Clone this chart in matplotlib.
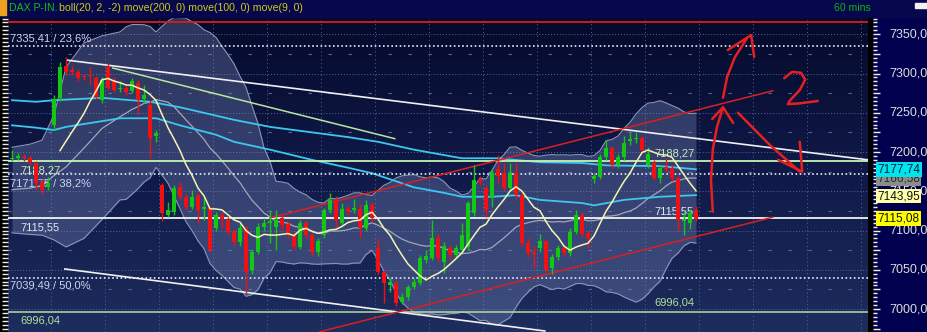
import numpy as np
import pandas as pd
import matplotlib
matplotlib.use("Agg")
import matplotlib.pyplot as plt
from matplotlib.patches import Rectangle
from matplotlib.colors import LinearSegmentedColormap
from matplotlib.ticker import MultipleLocator

plt.rcParams['font.family'] = ['Liberation Sans', 'DejaVu Sans']

# DAX hourly candles
opens = [7191, 7192, 7194, 7193, 7186, 7162, 7155, 7235, 7269, 7309, 7305, 7302, 7297, 7298, 7294, 7266, 7308, 7292, 7280, 7282,
         7278, 7288, 7268, 7260, 7220, 7158, 7120, 7124, 7155, 7143, 7130, 7145, 7128, 7129, 7103, 7120, 7113, 7098, 7085, 7104,
         7050, 7073, 7105, 7109, 7105, 7116, 7108, 7094, 7079, 7110, 7094, 7072, 7094, 7126, 7139, 7110, 7128, 7126, 7128, 7103,
         7132, 7078, 7047, 7030, 7033, 7009, 7015, 7028, 7033, 7062, 7065, 7090, 7060, 7078, 7069, 7075, 7079, 7122, 7166, 7154,
         7143, 7178, 7173, 7154, 7173, 7145, 7084, 7073, 7078, 7086, 7052, 7066, 7078, 7071, 7098, 7120, 7097, 7166, 7168, 7194,
         7205, 7183, 7194, 7214, 7216, 7218, 7183, 7186, 7167, 7181, 7180, 7167, 7112, 7110, 7126]
highs = [7203, 7199, 7198, 7196, 7188, 7165, 7168, 7272, 7315, 7321, 7310, 7306, 7300, 7308, 7297, 7295, 7313, 7296, 7290, 7285,
         7294, 7292, 7285, 7266, 7228, 7160, 7136, 7158, 7162, 7146, 7152, 7148, 7143, 7131, 7124, 7123, 7117, 7102, 7108, 7106,
         7076, 7110, 7116, 7126, 7126, 7120, 7112, 7098, 7114, 7113, 7097, 7090, 7129, 7148, 7144, 7135, 7131, 7140, 7134, 7139,
         7136, 7090, 7050, 7040, 7036, 7020, 7031, 7040, 7069, 7075, 7113, 7095, 7085, 7082, 7082, 7110, 7138, 7183, 7170, 7158,
         7178, 7196, 7186, 7186, 7186, 7148, 7090, 7080, 7095, 7088, 7070, 7082, 7081, 7103, 7126, 7124, 7100, 7173, 7197, 7215,
         7208, 7198, 7221, 7224, 7226, 7221, 7206, 7190, 7184, 7192, 7183, 7170, 7126, 7128, 7131]
lows = [7189, 7190, 7188, 7183, 7151, 7146, 7152, 7228, 7265, 7298, 7298, 7290, 7292, 7285, 7268, 7262, 7279, 7276, 7276, 7272,
        7275, 7248, 7262, 7193, 7213, 7112, 7117, 7120, 7140, 7126, 7127, 7110, 7113, 7072, 7100, 7103, 7094, 7080, 7080, 7020,
        7044, 7070, 7100, 7084, 7075, 7100, 7090, 7075, 7076, 7090, 7067, 7068, 7090, 7122, 7105, 7106, 7120, 7122, 7090, 7099,
        7111, 7044, 7008, 7022, 7004, 7006, 7012, 7025, 7030, 7058, 7062, 7060, 7046, 7062, 7065, 7072, 7075, 7118, 7158, 7117,
        7130, 7160, 7150, 7150, 7140, 7080, 7066, 7052, 7073, 7047, 7044, 7062, 7068, 7068, 7095, 7092, 7078, 7160, 7165, 7190,
        7180, 7180, 7190, 7209, 7212, 7199, 7180, 7164, 7160, 7175, 7163, 7100, 7094, 7102, 7112]
closes = [7193, 7195, 7192, 7187, 7160, 7152, 7161, 7268, 7308, 7302, 7302, 7294, 7296, 7297, 7270, 7292, 7282, 7279, 7282, 7277,
          7290, 7266, 7273, 7218, 7224, 7122, 7126, 7154, 7143, 7130, 7143, 7126, 7130, 7075, 7120, 7115, 7098, 7085, 7103, 7047,
          7073, 7105, 7110, 7112, 7114, 7107, 7094, 7079, 7110, 7094, 7072, 7086, 7126, 7139, 7113, 7128, 7124, 7129, 7103, 7132,
          7116, 7047, 7033, 7034, 7008, 7015, 7028, 7034, 7065, 7068, 7090, 7065, 7080, 7069, 7078, 7094, 7135, 7164, 7162, 7126,
          7173, 7170, 7154, 7173, 7145, 7084, 7071, 7070, 7086, 7050, 7066, 7078, 7071, 7098, 7120, 7095, 7090, 7169, 7194, 7205,
          7183, 7194, 7212, 7216, 7218, 7203, 7198, 7167, 7180, 7178, 7167, 7113, 7115, 7122, 7115.08]

# bollinger band before 20 bars are available
bb_head_idx = [0, 3, 5, 7, 9, 12, 15, 18]
bb_head_up = [7206, 7210, 7215, 7247, 7308, 7339, 7348, 7353]
bb_head_mid = [7152, 7154, 7157, 7170, 7181, 7205, 7230, 7245]
bb_head_lo = [7097, 7095, 7094, 7088, 7079, 7090, 7114, 7139]

# move(200) and move(100), sampled off the chart
ma_slow_idx = [0, 4, 7, 15, 23, 28, 37, 43, 56, 61, 67, 75, 81, 88, 95, 99, 108, 114]
ma_slow = [7266, 7264, 7266, 7269, 7264, 7257, 7241, 7232, 7219, 7213, 7203, 7192, 7192, 7187, 7186, 7183, 7182, 7178]
ma_mid_idx = [0, 4, 7, 9, 18, 20, 24, 28, 34, 37, 43, 50, 56, 60, 67, 72, 75, 80, 84, 88, 95, 97, 102, 108, 114]
ma_mid = [7234, 7231, 7228, 7232, 7243, 7243, 7243, 7234, 7222, 7213, 7203, 7190, 7180, 7173, 7155, 7148, 7143, 7143, 7145,
          7139, 7135, 7132, 7139, 7143, 7145]

# horizontal levels
red_top = 7366
fib_levels = [7335.41, 7171.75, 7039.49]
fib_text = ['7335,41 / 23,6%', '7171,75 / 38,2%', '7039,49 / 50,0%']
lvl_white = 7115.55
lvl_green = 7188.27
lvl_low = 6996.04

# drawn trendlines (bar index, price)
tl_white_top = ([9.2, 142.7], [7317, 7190])
tl_white_low = ([8.8, 88.8], [7051, 6972])
tl_green = ([16.8, 63.8], [7307, 7217])
tl_red_up = ([43, 126.8], [7116, 7278])
tl_red_low = ([51.3, 126.8], [6971, 7117])

# hand drawn marks
arrow_a = ([116.8, 116.5, 116.8, 117.5, 118.5], [7124, 7164, 7203, 7232, 7257])
arrow_a_head = ([116.7, 118.5, 120.2], [7242, 7257, 7237])
arrow_b = ([118.5, 119.2, 120.5, 122.5], [7269, 7296, 7321, 7345])
arrow_b_head = ([119.3, 123.2, 123.7], [7330, 7349, 7321])
arrow_c = ([121, 126.3, 131.3], [7250, 7209, 7175])
arrow_c_head = ([127.7, 131.7, 131.3], [7190, 7175, 7213])
two_x = [128.7, 130, 131.5, 132.2, 131.3, 129.7, 129.3, 131.3, 134.3]
two_y = [7294, 7302, 7301, 7292, 7279, 7266, 7261, 7262, 7265]

axis_prices = [7000, 7050, 7100, 7150, 7200, 7250, 7300, 7350]
tags = [('7166,58', 7166.58, '#8c8c8c', '#2a2a2a'), ('7177,74', 7177.74, '#00e4ee', '#002040'),
        ('7143,95', 7143.95, '#ffffa8', '#101010'), ('7115,08', 7115.08, '#ffff00', '#101010')]

W, H = 928, 332
fig = plt.figure(figsize=(W / 100, H / 100), dpi=100, facecolor='black')
ax = fig.add_axes([8 / W, 0, 860 / W, 315 / H])
ylo, yhi = 6970.7, 7372.0
xlo, xhi = -0.67, 142.67

grad = np.linspace(0, 1, 256).reshape(-1, 1)
cmap = LinearSegmentedColormap.from_list('bg', ['#1d2d5d', '#101a48', '#050a2c'])
ax.imshow(grad, aspect='auto', cmap=cmap, extent=[0, 1, 0, 1], transform=ax.transAxes, origin='lower', zorder=0)

# grid
for p in range(7000, 7375, 25):
    if p % 50 == 0:
        ax.axhline(p, color='#56659a', lw=0.7, ls=(0, (1, 2)), zorder=1)
    else:
        ax.axhline(p, color='#56659a', lw=0.8, ls=(0, (3, 15)), zorder=1)
for gx in np.arange(6.5, 143, 9):
    ax.axvline(gx, color='#56659a', lw=0.7, ls=(0, (1, 3)), zorder=1)

x = np.arange(len(closes))
cl = pd.Series(closes)
mid20 = cl.rolling(20).mean()
sd20 = cl.rolling(20).std(ddof=0)
ma9 = cl.rolling(9).mean()

bx = np.r_[bb_head_idx, x[19:]]
bup = np.r_[bb_head_up, (mid20 + 2 * sd20)[19:]]
blo = np.r_[bb_head_lo, (mid20 - 2 * sd20)[19:]]
bmid = np.r_[bb_head_mid, mid20[19:]]
ax.fill_between(bx, blo, bup, color='#8a9ace', alpha=0.3, lw=0, zorder=2)
ax.plot(bx, bup, color='#8c96b8', lw=0.8, zorder=2)
ax.plot(bx, blo, color='#8c96b8', lw=0.8, zorder=2)
ax.plot(bx, bmid, color='#a4a6b8', lw=0.9, zorder=3)

ax.plot(ma_slow_idx, ma_slow, color='#3cc8ee', lw=1.3, zorder=3)
ax.plot(ma_mid_idx, ma_mid, color='#3cc8ee', lw=1.3, zorder=3)

# levels
ax.axhline(red_top, color='#d81c1c', lw=1.3, zorder=4)
for p in fib_levels:
    ax.axhline(p, color='#e8ecf8', lw=1.2, ls=(0, (1, 1.5)), zorder=4)
ax.axhline(lvl_white, color='#f2f2f2', lw=1.3, zorder=4)
ax.axhline(lvl_green, color='#c4f4b4', lw=1.3, zorder=4)
ax.axhline(lvl_low, color='#b0e0a0', lw=1.1, zorder=4)

ax.plot(*tl_white_top, color='#f0f0f0', lw=1.2, zorder=4)
ax.plot(*tl_white_low, color='#f0f0f0', lw=1.2, zorder=4)
ax.plot(*tl_green, color='#b8e8a0', lw=1.1, zorder=4)
ax.plot(*tl_red_up, color='#d82020', lw=1.1, zorder=4)
ax.plot(*tl_red_low, color='#d82020', lw=1.1, zorder=4)


def level_label(xf, p, txt, color, dy):
    ax.annotate(txt, xy=(xf, p), xycoords=('axes fraction', 'data'), xytext=(0, dy * 0.72),
                textcoords='offset points', ha='left', va='center', color=color, fontsize=8, zorder=4)


level_label(0.002, fib_levels[0], fib_text[0], '#cdd4f0', 7.7)
level_label(0.002, fib_levels[1], fib_text[1], '#cdd4f0', -9)
level_label(0.002, fib_levels[2], fib_text[2], '#cdd4f0', -7.5)
level_label(0.014, lvl_white, '7115,55', '#e4e6f0', -8.7)
level_label(0.752, lvl_white, '7115,55', '#e4e6f0', 7.3)
level_label(0.014, lvl_green, '7188,27', '#c4f0b8', -9)
level_label(0.752, lvl_green, '7188,27', '#c4f0b8', 8)
level_label(0.014, lvl_low, '6996,04', '#b0e0a0', -8)
level_label(0.752, lvl_low, '6996,04', '#b0e0a0', 10)

# candles
o = np.array(opens)
c = np.array(closes)
col = np.where(c >= o, '#12c812', '#f01212')
ax.vlines(x, lows, highs, colors=col, lw=1.0, zorder=5)
ax.bar(x, np.maximum(np.abs(c - o), 1.3), bottom=np.minimum(o, c), width=0.68, color=col, lw=0, zorder=6)

ax.plot(x, ma9, color='#f4f4b4', lw=1.1, zorder=7)

# hand drawing
for xs, ys in [arrow_a, arrow_a_head, arrow_b, arrow_b_head, arrow_c, arrow_c_head, (two_x, two_y)]:
    ax.plot(xs, ys, color='#e62020', lw=1.8, solid_capstyle='round', solid_joinstyle='round', zorder=8)

ax.set_xlim(xlo, xhi)
ax.set_ylim(ylo, yhi)
ax.set_xticks([])
ax.yaxis.set_major_locator(MultipleLocator(25))
ax.yaxis.set_minor_locator(MultipleLocator(5))
ax.tick_params(axis='y', which='both', direction='out', length=4, width=1, color='#e8e8e8', labelleft=False)
for s in ax.spines.values():
    s.set_visible(False)

# price scale
ax2 = fig.add_axes([873 / W, 0, 55 / W, 315 / H])
ax2.set_facecolor('#00004e')
ax2.set_xlim(0, 1)
ax2.set_ylim(ylo, yhi)
ax2.set_xticks([])
ax2.yaxis.set_major_locator(MultipleLocator(25))
ax2.yaxis.set_minor_locator(MultipleLocator(5))
ax2.tick_params(axis='y', which='major', direction='in', length=5, width=1, color='#f0f0d8', labelleft=False)
ax2.tick_params(axis='y', which='minor', direction='in', length=3, width=1, color='#f0f0d8')
for s in ax2.spines.values():
    s.set_visible(False)
for p in axis_prices:
    ax2.text(0.29, p, f'{p},00', color='#dcdcdc', fontsize=9, va='center', ha='left', zorder=2, clip_on=True)
for txt, p, bg, fg in tags:
    ax2.text(0.075, p, txt, color=fg, fontsize=8.5, va='center', ha='left', zorder=3,
             bbox=dict(boxstyle='square,pad=0.12', fc=bg, ec='none'))

# header
fig.patches.append(Rectangle((0, 315 / H), 1, 17 / H, transform=fig.transFigure, color='#07074e', zorder=0))
fig.patches.append(Rectangle((0, 317 / H), 6 / W, 15 / H, transform=fig.transFigure, color='#f0a020', zorder=1))
fig.patches.append(Rectangle((915 / W, 324 / H), 13 / W, 5 / H, transform=fig.transFigure, color='#f0f0f0', zorder=1))
fig.text(9 / W, 1 - 8 / H, 'DAX P-IN.', color='#10c010', fontsize=7.6, va='center', ha='left')
fig.text(59 / W, 1 - 8 / H, 'boll(20, 2, -2) move(200, 0) move(100, 0) move(9, 0)', color='#cccc18',
         fontsize=7.6, va='center', ha='left')
fig.text(871 / W, 1 - 8 / H, '60 mins', color='#10b010', fontsize=7.6, va='center', ha='right')

fig.savefig('out.png', dpi=100, facecolor=fig.get_facecolor())
